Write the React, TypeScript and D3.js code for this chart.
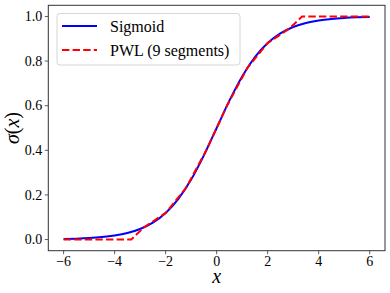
import React from "react";
import * as d3 from "d3";

// sigmoid samples
const sigX = [-6, -5.5, -5, -4.5, -4, -3.5, -3, -2.5, -2, -1.5, -1, -0.5, 0, 0.5, 1, 1.5, 2, 2.5, 3, 3.5, 4, 4.5, 5, 5.5, 6];
const sigY = [0.0025, 0.0041, 0.0067, 0.011, 0.018, 0.0293, 0.0474, 0.0759, 0.1192, 0.1824, 0.2689, 0.3775, 0.5, 0.6225, 0.7311, 0.8176, 0.8808, 0.9241, 0.9526, 0.9707, 0.982, 0.989, 0.9933, 0.9959, 0.9975];

// piecewise linear breakpoints
const pwlX = [-6, -3.35, -2.85, -2, -1.2, -0.4, 0.4, 1.2, 2, 2.85, 3.35, 6];
const pwlY = [0, 0, 0.0547, 0.1192, 0.2315, 0.4013, 0.5987, 0.7685, 0.8808, 0.9453, 1, 1];

const xTicks = [-6, -4, -2, 0, 2, 4, 6];
const yTicks = [0, 0.2, 0.4, 0.6, 0.8, 1.0];

const W = 390;
const H = 293;
const m = { left: 48.3, right: 5, top: 5.3, bottom: 42.3 };
const font = "'Liberation Serif', 'Times New Roman', serif";

export default function App() {
  const x = d3.scaleLinear().domain([-6.6, 6.6]).range([m.left, W - m.right]);
  const y = d3.scaleLinear().domain([-0.05, 1.05]).range([H - m.bottom, m.top]);

  const sigLine = d3.line<number>()
    .x((_, i) => x(sigX[i]))
    .y(d => y(d))
    .curve(d3.curveMonotoneX);
  const pwlLine = d3.line<number>()
    .x((_, i) => x(pwlX[i]))
    .y(d => y(d));

  const x0 = m.left, x1 = W - m.right, y0 = m.top, y1 = H - m.bottom;

  return (
    <svg width={W} height={H} style={{ position: "absolute", left: 0, top: 0, background: "#fff" }}>
      <path d={sigLine(sigY) as string} fill="none" stroke="#0000ff" strokeWidth={2} />
      <path d={pwlLine(pwlY) as string} fill="none" stroke="#ff0000" strokeWidth={2} strokeDasharray="7.4,3.2" />

      {/* 축 */}
      <rect x={x0} y={y0} width={x1 - x0} height={y1 - y0} fill="none" stroke="#333" strokeWidth={1} />
      {xTicks.map(t => (
        <g key={t}>
          <line x1={x(t)} x2={x(t)} y1={y1} y2={y1 + 3.5} stroke="#333" strokeWidth={0.8} />
          <text x={x(t)} y={y1 + 15} textAnchor="middle" fontFamily={font} fontSize={14} fill="#000">
            {t < 0 ? "\u2212" + Math.abs(t) : String(t)}
          </text>
        </g>
      ))}
      {yTicks.map(t => (
        <g key={t}>
          <line x1={x0 - 3.5} x2={x0} y1={y(t)} y2={y(t)} stroke="#333" strokeWidth={0.8} />
          <text x={x0 - 6} y={y(t) + 4.8} textAnchor="end" fontFamily={font} fontSize={14} fill="#000">
            {t.toFixed(1)}
          </text>
        </g>
      ))}

      <text x={(x0 + x1) / 2} y={283} textAnchor="middle" fontFamily={font} fontStyle="italic" fontSize={20}>x</text>
      <text transform={`translate(18.5, ${(y0 + y1) / 2}) rotate(-90)`} textAnchor="middle" fontFamily={font} fontSize={20}>
        <tspan fontStyle="italic">σ</tspan>(<tspan fontStyle="italic">x</tspan>)
      </text>

      {/* 범례 */}
      <rect x={57} y={13.5} width={183} height={51.5} rx={3} fill="#fff" fillOpacity={0.8} stroke="#ccc" strokeWidth={0.8} />
      <line x1={62} x2={97} y1={26} y2={26} stroke="#0000ff" strokeWidth={2} />
      <text x={110} y={31.5} fontFamily={font} fontSize={16}>Sigmoid</text>
      <line x1={62} x2={97} y1={50} y2={50} stroke="#ff0000" strokeWidth={2} strokeDasharray="7.4,3.2" />
      <text x={110} y={55.5} fontFamily={font} fontSize={16}>PWL (9 segments)</text>
    </svg>
  );
}
